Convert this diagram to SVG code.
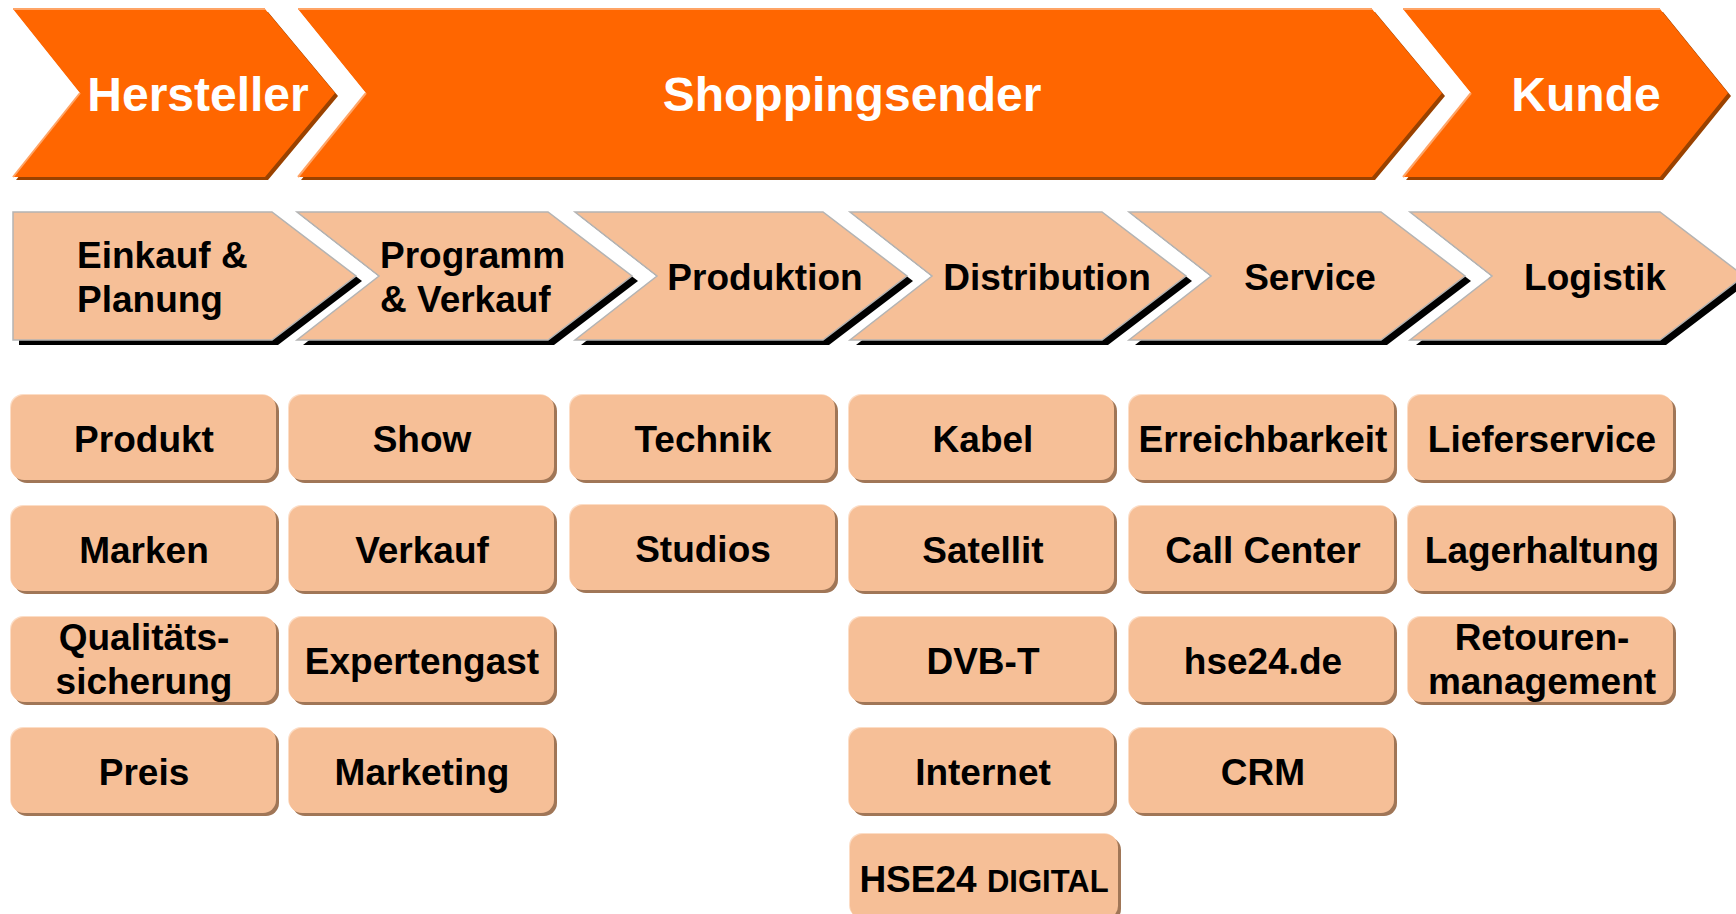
<svg xmlns="http://www.w3.org/2000/svg" width="1736" height="914" viewBox="0 0 1736 914">
<defs>
<style>
.top{fill:#FF6600}
.topsh{fill:#9A4200}
.tophl{fill:none;stroke:#FFA466;stroke-width:2}
.t1{font-family:"Liberation Sans",Arial,sans-serif;font-weight:bold;font-size:48px;fill:#fff;text-anchor:middle}
.chev{fill:#F6BF97;stroke:#B4B4B4;stroke-width:1.5}
.chevsh{fill:#000}
.t2{font-family:"Liberation Sans",Arial,sans-serif;font-weight:bold;font-size:37px;fill:#000}
.m{text-anchor:middle}
.box{fill:#F6BF97}
.boxsh{fill:#A07657}
.boxhl{fill:#FCDDC6}
</style>
</defs>
<rect width="1736" height="914" fill="#fff"/>

<g id="hersteller">
<polygon class="topsh" points="16,12 268,12 338,96 268,180 16,180 83,96"/>
<polygon class="top" points="13,9 265,9 335,93 265,177 13,177 80,93"/>
<polyline class="tophl" points="13,9 265,9"/>
<polyline class="tophl" points="80,93 13,177"/>
<text class="t1" x="198" y="111">Hersteller</text>
</g>
<g id="shoppingsender">
<polygon class="topsh" points="301,12 1375,12 1445,96 1375,180 301,180 369,96"/>
<polygon class="top" points="298,9 1372,9 1442,93 1372,177 298,177 366,93"/>
<polyline class="tophl" points="298,9 1372,9"/>
<polyline class="tophl" points="366,93 298,177"/>
<text class="t1" x="852" y="111">Shoppingsender</text>
</g>
<g id="kunde">
<polygon class="topsh" points="1406,12 1663,12 1731,96 1663,180 1406,180 1474,96"/>
<polygon class="top" points="1403,9 1660,9 1728,93 1660,177 1403,177 1471,93"/>
<polyline class="tophl" points="1403,9 1660,9"/>
<polyline class="tophl" points="1471,93 1403,177"/>
<text class="t1" x="1586" y="111">Kunde</text>
</g>

<g id="einkauf">
<polygon class="chevsh" points="19,217 278,217 362,281 278,345 19,345"/>
<polygon class="chev" points="13,212 272,212 356,276 272,340 13,340"/>
<text class="t2" x="77" y="268">Einkauf &amp;</text>
<text class="t2" x="77" y="312">Planung</text>
</g>
<g id="programm">
<polygon class="chevsh" points="303,217 554,217 638,281 554,345 303,345 385,281"/>
<polygon class="chev" points="297,212 548,212 632,276 548,340 297,340 379,276"/>
<text class="t2" x="380" y="268">Programm</text>
<text class="t2" x="380" y="312">&amp; Verkauf</text>
</g>
<g id="produktion">
<polygon class="chevsh" points="581,217 829,217 913,281 829,345 581,345 663,281"/>
<polygon class="chev" points="575,212 823,212 907,276 823,340 575,340 657,276"/>
<text class="t2 m" x="765" y="290">Produktion</text>
</g>
<g id="distribution">
<polygon class="chevsh" points="856,217 1108,217 1192,281 1108,345 856,345 938,281"/>
<polygon class="chev" points="850,212 1102,212 1186,276 1102,340 850,340 932,276"/>
<text class="t2 m" x="1047" y="290">Distribution</text>
</g>
<g id="service">
<polygon class="chevsh" points="1135,217 1387,217 1471,281 1387,345 1135,345 1217,281"/>
<polygon class="chev" points="1129,212 1381,212 1465,276 1381,340 1129,340 1211,276"/>
<text class="t2 m" x="1310" y="290">Service</text>
</g>
<g id="logistik">
<polygon class="chevsh" points="1416,217 1666,217 1750,281 1666,345 1416,345 1498,281"/>
<polygon class="chev" points="1410,212 1660,212 1744,276 1660,340 1410,340 1492,276"/>
<text class="t2 m" x="1595" y="290">Logistik</text>
</g>

<g id="boxes">
<g id="produkt"><rect class="boxsh" x="14" y="398" width="265" height="85" rx="13"/><rect class="boxhl" x="10" y="394" width="265" height="85" rx="13"/><rect class="box" x="11" y="395" width="265" height="85" rx="13"/><text class="t2 m" x="144" y="452">Produkt</text></g>
<g id="marken"><rect class="boxsh" x="14" y="509" width="265" height="85" rx="13"/><rect class="boxhl" x="10" y="505" width="265" height="85" rx="13"/><rect class="box" x="11" y="506" width="265" height="85" rx="13"/><text class="t2 m" x="144" y="563">Marken</text></g>
<g id="qualitaet"><rect class="boxsh" x="14" y="620" width="265" height="85" rx="13"/><rect class="boxhl" x="10" y="616" width="265" height="85" rx="13"/><rect class="box" x="11" y="617" width="265" height="85" rx="13"/><text class="t2 m" x="144" y="650">Qualitäts-</text><text class="t2 m" x="144" y="694">sicherung</text></g>
<g id="preis"><rect class="boxsh" x="14" y="731" width="265" height="85" rx="13"/><rect class="boxhl" x="10" y="727" width="265" height="85" rx="13"/><rect class="box" x="11" y="728" width="265" height="85" rx="13"/><text class="t2 m" x="144" y="785">Preis</text></g>

<g id="show"><rect class="boxsh" x="292" y="398" width="265" height="85" rx="13"/><rect class="boxhl" x="288" y="394" width="265" height="85" rx="13"/><rect class="box" x="289" y="395" width="265" height="85" rx="13"/><text class="t2 m" x="422" y="452">Show</text></g>
<g id="verkauf"><rect class="boxsh" x="292" y="509" width="265" height="85" rx="13"/><rect class="boxhl" x="288" y="505" width="265" height="85" rx="13"/><rect class="box" x="289" y="506" width="265" height="85" rx="13"/><text class="t2 m" x="422" y="563">Verkauf</text></g>
<g id="expertengast"><rect class="boxsh" x="292" y="620" width="265" height="85" rx="13"/><rect class="boxhl" x="288" y="616" width="265" height="85" rx="13"/><rect class="box" x="289" y="617" width="265" height="85" rx="13"/><text class="t2 m" x="422" y="674">Expertengast</text></g>
<g id="marketing"><rect class="boxsh" x="292" y="731" width="265" height="85" rx="13"/><rect class="boxhl" x="288" y="727" width="265" height="85" rx="13"/><rect class="box" x="289" y="728" width="265" height="85" rx="13"/><text class="t2 m" x="422" y="785">Marketing</text></g>

<g id="technik"><rect class="boxsh" x="573" y="398" width="265" height="85" rx="13"/><rect class="boxhl" x="569" y="394" width="265" height="85" rx="13"/><rect class="box" x="570" y="395" width="265" height="85" rx="13"/><text class="t2 m" x="703" y="452">Technik</text></g>
<g id="studios"><rect class="boxsh" x="573" y="508" width="265" height="85" rx="13"/><rect class="boxhl" x="569" y="504" width="265" height="85" rx="13"/><rect class="box" x="570" y="505" width="265" height="85" rx="13"/><text class="t2 m" x="703" y="562">Studios</text></g>

<g id="kabel"><rect class="boxsh" x="852" y="398" width="265" height="85" rx="13"/><rect class="boxhl" x="848" y="394" width="265" height="85" rx="13"/><rect class="box" x="849" y="395" width="265" height="85" rx="13"/><text class="t2 m" x="983" y="452">Kabel</text></g>
<g id="satellit"><rect class="boxsh" x="852" y="509" width="265" height="85" rx="13"/><rect class="boxhl" x="848" y="505" width="265" height="85" rx="13"/><rect class="box" x="849" y="506" width="265" height="85" rx="13"/><text class="t2 m" x="983" y="563">Satellit</text></g>
<g id="dvbt"><rect class="boxsh" x="852" y="620" width="265" height="85" rx="13"/><rect class="boxhl" x="848" y="616" width="265" height="85" rx="13"/><rect class="box" x="849" y="617" width="265" height="85" rx="13"/><text class="t2 m" x="983" y="674">DVB-T</text></g>
<g id="internet"><rect class="boxsh" x="852" y="731" width="265" height="85" rx="13"/><rect class="boxhl" x="848" y="727" width="265" height="85" rx="13"/><rect class="box" x="849" y="728" width="265" height="85" rx="13"/><text class="t2 m" x="983" y="785">Internet</text></g>
<g id="hse24digital"><rect class="boxsh" x="853" y="837" width="268" height="85" rx="13"/><rect class="boxhl" x="849" y="833" width="268" height="85" rx="13"/><rect class="box" x="850" y="834" width="268" height="85" rx="13"/><text class="t2 m" x="984" y="892">HSE24 <tspan font-size="31">DIGITAL</tspan></text></g>

<g id="erreichbarkeit"><rect class="boxsh" x="1132" y="398" width="265" height="85" rx="13"/><rect class="boxhl" x="1128" y="394" width="265" height="85" rx="13"/><rect class="box" x="1129" y="395" width="265" height="85" rx="13"/><text class="t2 m" x="1263" y="452">Erreichbarkeit</text></g>
<g id="callcenter"><rect class="boxsh" x="1132" y="509" width="265" height="85" rx="13"/><rect class="boxhl" x="1128" y="505" width="265" height="85" rx="13"/><rect class="box" x="1129" y="506" width="265" height="85" rx="13"/><text class="t2 m" x="1263" y="563">Call Center</text></g>
<g id="hse24de"><rect class="boxsh" x="1132" y="620" width="265" height="85" rx="13"/><rect class="boxhl" x="1128" y="616" width="265" height="85" rx="13"/><rect class="box" x="1129" y="617" width="265" height="85" rx="13"/><text class="t2 m" x="1263" y="674">hse24.de</text></g>
<g id="crm"><rect class="boxsh" x="1132" y="731" width="265" height="85" rx="13"/><rect class="boxhl" x="1128" y="727" width="265" height="85" rx="13"/><rect class="box" x="1129" y="728" width="265" height="85" rx="13"/><text class="t2 m" x="1263" y="785">CRM</text></g>

<g id="lieferservice"><rect class="boxsh" x="1411" y="398" width="265" height="85" rx="13"/><rect class="boxhl" x="1407" y="394" width="265" height="85" rx="13"/><rect class="box" x="1408" y="395" width="265" height="85" rx="13"/><text class="t2 m" x="1542" y="452">Lieferservice</text></g>
<g id="lagerhaltung"><rect class="boxsh" x="1411" y="509" width="265" height="85" rx="13"/><rect class="boxhl" x="1407" y="505" width="265" height="85" rx="13"/><rect class="box" x="1408" y="506" width="265" height="85" rx="13"/><text class="t2 m" x="1542" y="563">Lagerhaltung</text></g>
<g id="retouren"><rect class="boxsh" x="1411" y="620" width="265" height="85" rx="13"/><rect class="boxhl" x="1407" y="616" width="265" height="85" rx="13"/><rect class="box" x="1408" y="617" width="265" height="85" rx="13"/><text class="t2 m" x="1542" y="650">Retouren-</text><text class="t2 m" x="1542" y="694">management</text></g>
</g>
<g id="connectors"/>
</svg>
